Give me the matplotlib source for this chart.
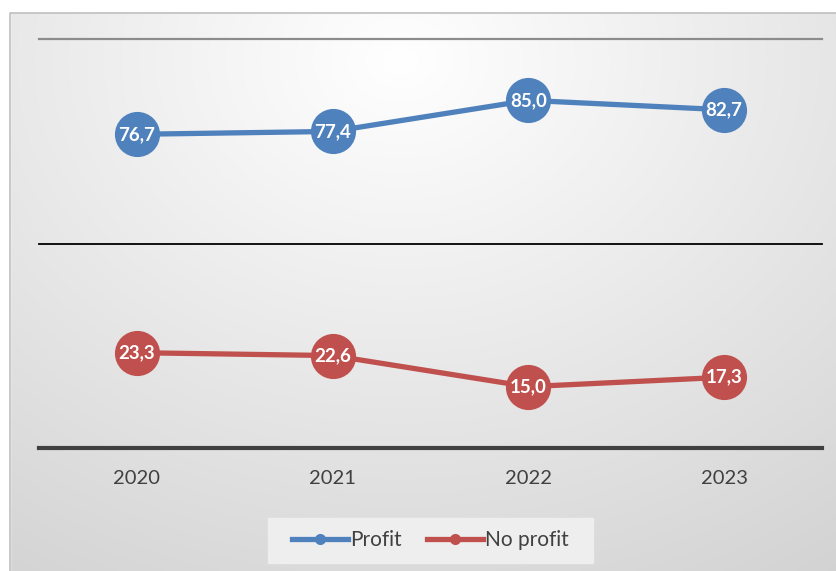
import numpy as np
import matplotlib
matplotlib.use("Agg")
import matplotlib.pyplot as plt
from matplotlib.lines import Line2D
from matplotlib.patches import Rectangle

plt.rcParams['font.family'] = ['Lato', 'DejaVu Sans']

years = ["2020", "2021", "2022", "2023"]
profit = [76.7, 77.4, 85.0, 82.7]
no_profit = [23.3, 22.6, 15.0, 17.3]
series_names = ["Profit", "No profit"]
colors = ["#4F81BD", "#C0504D"]

W, H = 837, 571
fig = plt.figure(figsize=(W / 100, H / 100), dpi=100)
fig.patch.set_facecolor("white")

# background gradient for chart area
bg = fig.add_axes([0, 0, 1, 1], zorder=0)
bg.set_xlim(0, W)
bg.set_ylim(H, 0)
bg.axis("off")
yy, xx = np.mgrid[0:H, 0:W]
d = np.sqrt(((xx - 400) / 600.0) ** 2 + ((yy - 60) / 480.0) ** 2)
val = np.clip(1 - 0.135 * d, 0.8, 1.0)
img = np.dstack([val, val, val])
bg.imshow(img, extent=[0, W, H, 0], interpolation="bilinear", aspect="auto")
# white outside the chart area
bg.add_patch(Rectangle((0, 0), W, 12, color="white", zorder=2))
bg.add_patch(Rectangle((0, 0), 10, H, color="white", zorder=2))
bg.plot([10.5, 10.5, W], [H, 12.5, 12.5], color="#bfbfbf", lw=1.2, zorder=3)
# legend box
bg.add_patch(Rectangle((268, 518), 325, 45, color="#eeeeee", zorder=2))

ax = fig.add_axes([39 / W, 1 - 448 / H, (822 - 39) / W, (448 - 39) / H], zorder=1)
ax.patch.set_alpha(0)
x = np.arange(len(years)) + 0.5
ax.set_xlim(0, len(years))
ax.set_ylim(0, 100)
for s in ax.spines.values():
    s.set_visible(False)
ax.set_yticks([])
ax.set_xticks(x)
ax.set_xticklabels(years, fontsize=14.5, color="#404040")
ax.tick_params(axis="x", length=0, pad=16)

ax.axhline(100, color="#8c8c8c", lw=1.6, zorder=1, clip_on=False)
ax.axhline(50, color="#000000", lw=1.3, zorder=1, clip_on=False)
ax.axhline(0, color="#404040", lw=3.0, zorder=1, clip_on=False)

for vals, c in zip([profit, no_profit], colors):
    ax.plot(x, vals, color=c, lw=3.8, marker="o", markersize=32.5,
            markeredgewidth=0, zorder=3, clip_on=False)
    for xi, v in zip(x, vals):
        ax.text(xi, v, f"{v:.1f}".replace(".", ","), ha="center", va="center",
                color="white", fontsize=13.5, fontweight="bold", zorder=4)

handles = [Line2D([], [], color=c, lw=3.8, marker="o", markersize=8,
                  markeredgewidth=0) for c in colors]
leg = fig.legend(handles, series_names, loc="center",
                 bbox_to_anchor=(430.5 / W, 1 - 540.5 / H), ncol=2, frameon=False,
                 fontsize=15, handlelength=2.7, handletextpad=0.1,
                 columnspacing=1.2, labelcolor="#404040")

fig.savefig("out.png", dpi=100)
